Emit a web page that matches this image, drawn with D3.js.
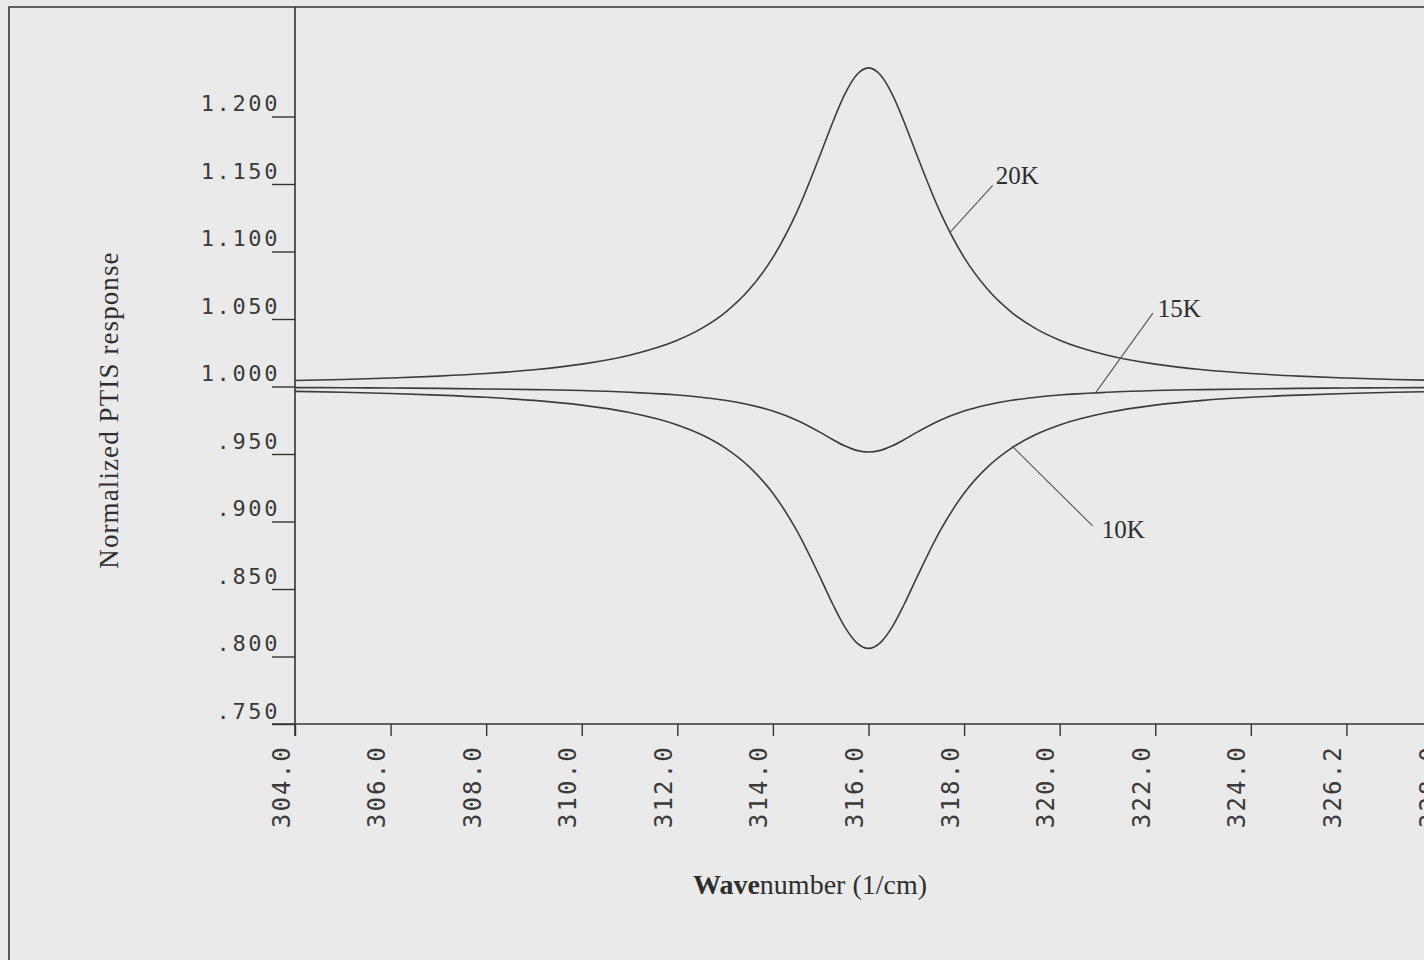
<!DOCTYPE html>
<html>
<head>
<meta charset="utf-8">
<script src="https://cdn.jsdelivr.net/npm/d3@7"></script>
<style>
  body { margin: 0; background: #eaeaea; }
  svg { display: block; }
  .tick-label { font-family: "DejaVu Sans Mono", monospace; fill: #3a3a3a; }
  .serif { font-family: "Liberation Serif", "Times New Roman", serif; fill: #2e2e2e; }
</style>
</head>
<body>
<div class="ptis-chart"></div>
<script>
// readings taken off the plot
const wavenumber = [304, 305, 306, 307, 308, 309, 310, 311,
    312, 312.5, 313, 313.5, 314, 314.5, 315, 315.25, 315.5, 315.75,
    316,
    316.25, 316.5, 316.75, 317, 317.5, 318, 318.5, 319, 319.5, 320,
    321, 322, 323, 324, 325, 326, 327, 328];

const response20K = [1.0044, 1.0052, 1.0063, 1.0077, 1.0096, 1.0124, 1.0166, 1.0232,
    1.0343, 1.0429, 1.0548, 1.0716, 1.0956, 1.1292, 1.1726, 1.1956, 1.2162, 1.2307,
    1.2360,
    1.2307, 1.2162, 1.1956, 1.1726, 1.1292, 1.0956, 1.0716, 1.0548, 1.0429, 1.0343,
    1.0232, 1.0166, 1.0124, 1.0096, 1.0077, 1.0063, 1.0052, 1.0044];

const response15K = [0.9992, 0.9991, 0.9989, 0.9986, 0.9982, 0.9977, 0.9970, 0.9957,
    0.9937, 0.9920, 0.9898, 0.9865, 0.9818, 0.9750, 0.9658, 0.9607, 0.9561, 0.9527,
    0.9515,
    0.9527, 0.9561, 0.9607, 0.9658, 0.9750, 0.9818, 0.9865, 0.9898, 0.9920, 0.9937,
    0.9957, 0.9970, 0.9977, 0.9982, 0.9986, 0.9989, 0.9991, 0.9992];

const response10K = [0.9964, 0.9957, 0.9948, 0.9936, 0.9920, 0.9897, 0.9862, 0.9807,
    0.9715, 0.9644, 0.9545, 0.9406, 0.9209, 0.8932, 0.8577, 0.8389, 0.8221, 0.8103,
    0.8060,
    0.8103, 0.8221, 0.8389, 0.8577, 0.8932, 0.9209, 0.9406, 0.9545, 0.9644, 0.9715,
    0.9807, 0.9862, 0.9897, 0.9920, 0.9936, 0.9948, 0.9957, 0.9964];

const xTicks = [304, 306, 308, 310, 312, 314, 316, 318, 320, 322, 324, 326, 328];
const xTickLabels = ["304.0", "306.0", "308.0", "310.0", "312.0", "314.0", "316.0",
    "318.0", "320.0", "322.0", "324.0", "326.2", "328.0"];
const yTicks = [0.75, 0.80, 0.85, 0.90, 0.95, 1.00, 1.05, 1.10, 1.15, 1.20];
const yTickLabels = [".750", ".800", ".850", ".900", ".950", "1.000", "1.050", "1.100", "1.150", "1.200"];

const seriesNames = ["20K", "15K", "10K"];
// point where each leader line touches its curve, and where it ends
const leaderFrom = [[317.7, 1.114], [320.75, 0.9953], [319.0, 0.956]];
const leaderTo = [[318.6, 1.149], [321.95, 1.0544], [320.69, 0.8967]];

const W = 1424, H = 960;

let svg = d3.select(".ptis-chart").append("svg")
    .attr("width", W).attr("height", H);

svg.append("rect").attr("width", W).attr("height", H).attr("fill", "#eaeaea");

let x = d3.scaleLinear().domain([304, 328]).range([295, 1442]),
    y = d3.scaleLinear().domain([0.75, 1.20]).range([724, 116.5]);

let ink = "#333";

// outer frame (top and left edges are all that show)
svg.append("path")
    .attr("d", "M9,960V7H" + W)
    .attr("fill", "none").attr("stroke", ink).attr("stroke-width", 1.6);

// y axis
let gy = svg.append("g")
    .attr("transform", "translate(" + x(304) + ",0)")
    .call(d3.axisLeft(y).tickValues(yTicks).tickSize(23)
        .tickFormat(function (d, i) { return yTickLabels[i]; }));
gy.select(".domain").remove();
gy.selectAll(".tick line").attr("stroke", ink).attr("stroke-width", 1.4);
gy.selectAll(".tick text")
    .attr("class", "tick-label")
    .attr("x", -15).attr("y", -6).attr("dy", 0)
    .style("font-size", "22px").style("letter-spacing", "2.6px")
    .attr("fill", "#3a3a3a");
gy.append("line")
    .attr("x1", 0).attr("x2", 0)
    .attr("y1", 7).attr("y2", y(0.75) + 12)
    .attr("stroke", ink).attr("stroke-width", 1.6);

// x axis
let gx = svg.append("g")
    .attr("transform", "translate(0," + y(0.75) + ")")
    .call(d3.axisBottom(x).tickValues(xTicks).tickSize(12)
        .tickFormat(function (d, i) { return xTickLabels[i]; }));
gx.select(".domain").remove();
gx.selectAll(".tick line").attr("stroke", ink).attr("stroke-width", 1.4);
gx.selectAll(".tick text")
    .attr("class", "tick-label")
    .attr("y", 0).attr("dy", 0)
    .attr("text-anchor", "end")
    .attr("transform", "translate(-6,21) rotate(-90)")
    .style("font-size", "24px").style("letter-spacing", "2.2px")
    .attr("fill", "#3a3a3a");
gx.append("line")
    .attr("x1", x(304) - 23).attr("x2", W)
    .attr("y1", 0).attr("y2", 0)
    .attr("stroke", ink).attr("stroke-width", 1.6);

// curves
let line = d3.line()
    .curve(d3.curveMonotoneX)
    .x(function (d) { return x(d[0]); })
    .y(function (d) { return y(d[1]); });

[response20K, response15K, response10K].forEach(function (vals) {
    svg.append("path")
        .datum(wavenumber.map(function (w, i) { return [w, vals[i]]; }))
        .attr("d", line)
        .attr("fill", "none")
        .attr("stroke", "#3c3c3c")
        .attr("stroke-width", 1.6);
});

// leaders and labels
let labelShift = [[3, -1], [5, 4], [9, 12]];
seriesNames.forEach(function (name, i) {
    let x1 = x(leaderFrom[i][0]), y1 = y(leaderFrom[i][1]),
        x2 = x(leaderTo[i][0]), y2 = y(leaderTo[i][1]);
    svg.append("line")
        .attr("x1", x1).attr("y1", y1).attr("x2", x2).attr("y2", y2)
        .attr("stroke", "#555").attr("stroke-width", 1.1);
    svg.append("text")
        .attr("class", "serif")
        .attr("x", x2 + labelShift[i][0])
        .attr("y", y2 + labelShift[i][1])
        .style("font-size", "25px")
        .text(name);
});

// axis titles
svg.append("text")
    .attr("class", "serif")
    .attr("transform", "translate(118,410) rotate(-90)")
    .attr("text-anchor", "middle")
    .style("font-size", "27px")
    .style("letter-spacing", "1.1px")
    .text("Normalized PTIS response");

let xt = svg.append("text")
    .attr("class", "serif")
    .attr("x", 810).attr("y", 894)
    .attr("text-anchor", "middle")
    .style("font-size", "28px");
xt.append("tspan").style("font-weight", "bold").text("Wave");
xt.append("tspan").text("number (1/cm)");
</script>
</body>
</html>
